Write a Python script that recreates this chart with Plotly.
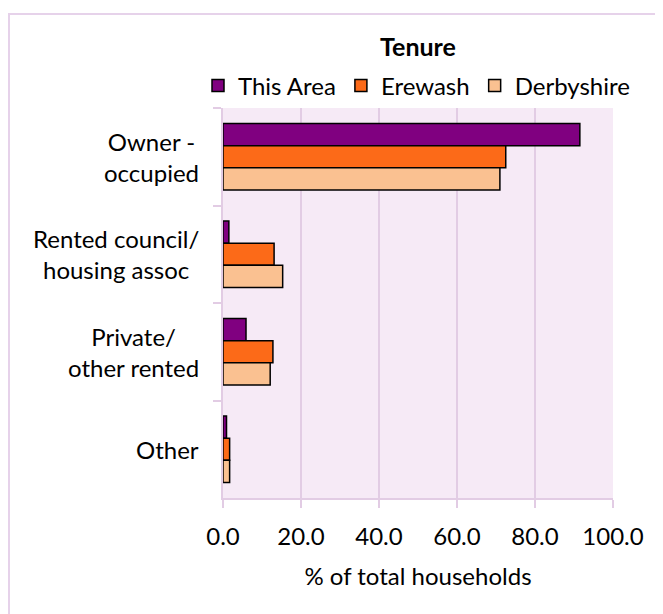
import plotly.graph_objects as go

categories = ["Owner -<br>occupied", "Rented council/<br>housing assoc", "Private/<br>other rented", "Other"]
series_names = ["This Area", "Erewash", "Derbyshire"]
this_area = [91.5, 1.5, 5.9, 0.9]
erewash = [72.5, 13.1, 12.8, 1.7]
derbyshire = [71.0, 15.3, 12.1, 1.7]
x_ticks = [0, 20, 40, 60, 80, 100]
x_tick_labels = ["0.0", "20.0", "40.0", "60.0", "80.0", "100.0"]

colors = ["#800080", "#FC6A18", "#FAC191"]
FONT = "Lato, Open Sans, sans-serif"
FS = 24

# figure pixel geometry (page has an 8px body margin)
PL, PR, PT, PB = 215, 605, 100, 490
PW, PH = PR - PL, PB - PT

fig = go.Figure()
for name, vals, col in zip(series_names, [this_area, erewash, derbyshire], colors):
    fig.add_trace(go.Bar(
        y=categories, x=vals, name=name, orientation="h",
        marker=dict(color=col, line=dict(color="black", width=1.5)),
    ))

for cat in categories:
    fig.add_annotation(x=0, xref="paper", y=cat, yref="y", text=cat,
                       showarrow=False, xanchor="right", align="center",
                       xshift=-22, font=dict(size=FS, color="#000000", family=FONT))

# outer chart border
fig.add_shape(type="rect", xref="paper", yref="paper",
              x0=(1 - PL) / PW, x1=(700 - PL) / PW,
              y0=(PB - 700) / PH, y1=(PB - 6) / PH,
              line=dict(color="#E6D2EA", width=2), layer="below")

fig.update_layout(
    width=663, height=614,
    margin=dict(l=PL, r=663 - PR, t=PT, b=614 - PB),
    paper_bgcolor="white", plot_bgcolor="#F6EAF6",
    font=dict(family=FONT, size=FS, color="#000000"),
    barmode="group", bargap=0.32, bargroupgap=0,
    title=dict(text="<b>Tenure</b>", x=410 / 663, xanchor="center",
               y=1 - 39 / 614, yanchor="middle", font=dict(size=25, family=FONT)),
    legend=dict(orientation="h", x=(190 - PL) / PW, xanchor="left",
                y=(PB - 78) / PH, yanchor="middle",
                font=dict(size=24, family=FONT),
                itemwidth=30, traceorder="normal", bgcolor="rgba(0,0,0,0)"),
    showlegend=True,
)
fig.update_xaxes(range=[0, 100], tickvals=x_ticks, ticktext=x_tick_labels,
                 showgrid=True, gridcolor="#E2CCE4", gridwidth=2,
                 showline=True, linecolor="#E2CCE4", linewidth=2,
                 ticks="outside", ticklen=8, tickcolor="#E2CCE4", tickwidth=2,
                 zeroline=False, ticklabelstandoff=8,
                 title=dict(text="% of total households", standoff=19,
                            font=dict(size=FS, family=FONT)),
                 tickfont=dict(size=FS, family=FONT))
fig.update_yaxes(autorange="reversed", showticklabels=False,
                 showline=True, linecolor="#E2CCE4", linewidth=2,
                 ticks="outside", ticklen=8, tickcolor="#E2CCE4", tickwidth=2,
                 tickson="boundaries", showgrid=False)

fig.write_html("out.html")
